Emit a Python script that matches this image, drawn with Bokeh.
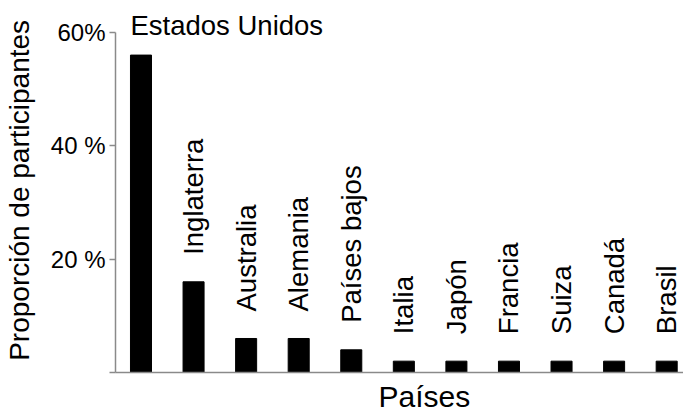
import math
from bokeh.plotting import figure
from bokeh.models import Range1d, FixedTicker, Title, ColumnDataSource
from bokeh.core.properties import value
from bokeh.embed import file_html
from bokeh.resources import INLINE

countries = ["Estados Unidos", "Inglaterra", "Australia", "Alemania", "Países bajos",
             "Italia", "Japón", "Francia", "Suiza", "Canadá", "Brasil"]
shares = [56, 16, 6, 6, 4, 2, 2, 2, 2, 2, 2]
tick_values = [0, 20, 40, 60]
tick_labels = ["", "20 %", "40 %", "60%"]
y_title = "Proporción  de participantes"
x_title = "Países"

FONT = "Liberation Sans"
GRAY = "#8a8a8a"

xs = list(range(len(countries)))

p = figure(width=683, height=417, output_backend="svg", toolbar_location=None,
           x_range=Range1d(-0.485, len(countries) - 1 + 0.32),
           y_range=Range1d(0, 65.63),
           min_border_left=115, min_border_bottom=44, min_border_top=0, min_border_right=0)
p.outline_line_color = None
p.grid.visible = False
p.background_fill_color = "white"

p.vbar(x=xs, top=shares, width=0.4, color="black")

# first label horizontal
src0 = ColumnDataSource(dict(x=xs[:1], y=shares[:1], t=countries[:1]))
p.text(x="x", y="y", text="t", source=src0, text_font=value(FONT), text_font_size="27.5px",
       text_align="left", text_baseline="alphabetic", x_offset=-10.5, y_offset=-30,
       text_color="black")

src = ColumnDataSource(dict(x=xs[1:], y=shares[1:], t=countries[1:]))
p.text(x="x", y="y", text="t", source=src, text_font=value(FONT), text_font_size="27.5px",
       text_align="left", text_baseline="middle", angle=math.pi / 2, y_offset=-27,
       text_color="black")

ya = p.yaxis[0]
ya.ticker = FixedTicker(ticks=tick_values)
ya.major_label_overrides = {v: l for v, l in zip(tick_values, tick_labels)}
ya.bounds = (0, 60)
ya.axis_line_color = GRAY
ya.axis_line_width = 1.5
ya.major_tick_line_color = GRAY
ya.major_tick_line_width = 1.5
ya.major_tick_in = 0
ya.major_tick_out = 6
ya.minor_tick_line_color = None
ya.major_label_text_font = FONT
ya.major_label_text_font_size = "24px"
ya.major_label_text_color = "black"
ya.major_label_standoff = 4
ya.axis_label = y_title
ya.axis_label_text_font = FONT
ya.axis_label_text_font_size = "28px"
ya.axis_label_text_font_style = "normal"
ya.axis_label_text_color = "black"
ya.axis_label_standoff = 13

xa = p.xaxis[0]
xa.ticker = FixedTicker(ticks=[])
xa.axis_line_color = GRAY
xa.axis_line_width = 1.5
xa.major_tick_line_color = None
xa.minor_tick_line_color = None
xa.major_tick_out = 0
xa.major_tick_in = 0
xa.major_label_standoff = 0
xa.major_label_text_font_size = "0px"

p.add_layout(Title(text=x_title, align="left", offset=263, standoff=10,
                   text_font=FONT, text_font_size="30px", text_font_style="normal",
                   text_color="black"), "below")

open("out.html", "w").write(file_html(p, INLINE))
